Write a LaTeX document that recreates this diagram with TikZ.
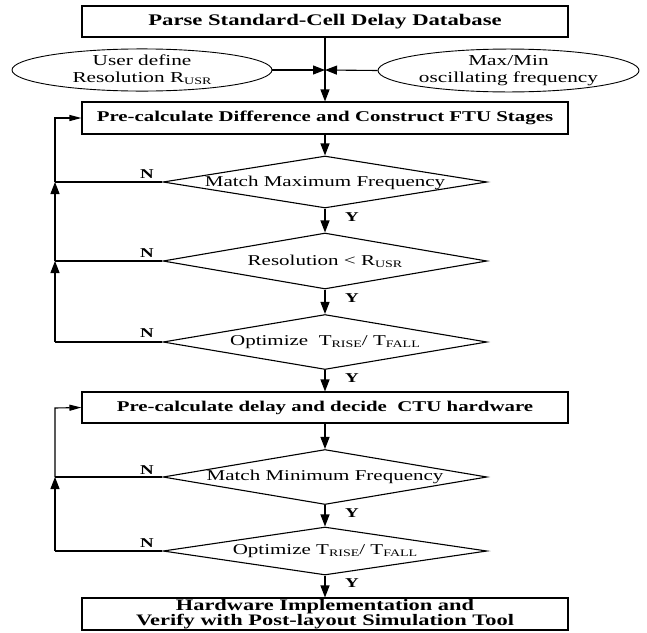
\documentclass[tikz,border=0pt]{standalone}
\usepackage{fontspec}
\setmainfont[FakeStretch=1.4]{Liberation Serif}
\usetikzlibrary{shapes.geometric,arrows.meta}
\newcommand\sbs[1]{\raisebox{-2pt}{\fontsize{10}{10}\selectfont #1}}
\begin{document}
\begin{tikzpicture}[x=1pt,y=-1pt,
  every node/.style={inner sep=0pt},
  box/.style={draw,line width=1.1pt,rectangle,minimum width=486pt,font=\bfseries\fontsize{14.9}{16}\selectfont,align=center},
  oval/.style={draw,line width=0.9pt,ellipse,font=\fontsize{15.2}{17}\selectfont,align=center},
  dia/.style={draw,line width=1.1pt,diamond,minimum width=324pt},
  dtxt/.style={font=\fontsize{15}{17}\selectfont},
  lab/.style={font=\bfseries\fontsize{13.5}{14}\selectfont},
  line/.style={line width=1.1pt},
  arr/.style={line width=1.1pt,-{Triangle[length=12pt,width=9pt]}},
  sarr/.style={line width=1.1pt,-{Triangle[length=12pt,width=6pt]}}]
\useasboundingbox (0,0) rectangle (647,632);
% nodes
\node[box,minimum height=31pt,font=\bfseries\fontsize{16.2}{17}\selectfont] (b1) at (325,21.5) {Parse Standard-Cell Delay Database};
\node[oval,minimum width=260pt,minimum height=41pt] (e1) at (142,70) {User define\\Resolution R\sbs{USR}};
\node[oval,minimum width=261pt,minimum height=41pt] (e2) at (508.5,70.5) {Max/Min\\oscillating frequency};
\coordinate (j) at (325,70);
\node[box,minimum height=32pt] (b2) at (325,118) {Pre-calculate Difference and Construct FTU Stages};
\node[dia,minimum height=52pt] (d1) at (325,182) {};
\node[dtxt] (t1) at (325,183) {Match Maximum Frequency};
\node[dia,minimum height=56pt] (d2) at (325,261) {};
\node[dtxt] (t2) at (325,261) {Resolution < R\sbs{USR}};
\node[dia,minimum height=55pt] (d3) at (325,342) {};
\node[dtxt] (t3) at (325,342) {Optimize\ \ T\sbs{RISE}/ T\sbs{FALL}};
\node[box,minimum height=31pt] (b3) at (325,407.5) {Pre-calculate delay and decide\ \ CTU hardware};
\node[dia,minimum height=55pt] (d4) at (325,477) {};
\node[dtxt] (t4) at (325,477) {Match Minimum Frequency};
\node[dia,minimum height=48pt] (d5) at (325,551) {};
\node[dtxt] (t5) at (325,551) {Optimize T\sbs{RISE}/ T\sbs{FALL}};
\node[box,minimum height=32pt,font=\bfseries\fontsize{16}{15.5}\selectfont] (b4) at (325,614) {Hardware Implementation and\\Verify with Post-layout Simulation Tool};
% labels
\node[lab] (n1) at (147,174) {N};
\node[lab] (n2) at (147,253) {N};
\node[lab] (n3) at (147,333) {N};
\node[lab] (n4) at (147,470) {N};
\node[lab] (n5) at (147,543) {N};
\node[lab] (y1) at (352,217) {Y};
\node[lab] (y2) at (352,298) {Y};
\node[lab] (y3) at (352,378) {Y};
\node[lab] (y4) at (352,513) {Y};
\node[lab] (y5) at (352,583) {Y};
% main flow
\draw[arr] (b1.south) -- (b2.north);
\draw[arr] (e1.east) -- (j);
\draw[arr] (e2.west) -- (j);
\draw[arr] (b2.south) -- (d1.north);
\draw[arr] (d1.south) -- (d2.north);
\draw[arr] (d2.south) -- (d3.north);
\draw[arr] (d3.south) -- (b3.north);
\draw[arr] (b3.south) -- (d4.north);
\draw[arr] (d4.south) -- (d5.north);
\draw[arr] (d5.south) -- (b4.north);
% FTU loop
\coordinate (l0) at (55,118);
\coordinate (l1) at (55,182);
\coordinate (l2) at (55,261);
\coordinate (l3) at (55,342);
\draw[line] (d1.west) -- (l1);
\draw[line] (d2.west) -- (l2);
\draw[line] (d3.west) -- (l3);
\draw[arr] (l3) -- (l2);
\draw[arr] (l2) -- (l1);
\draw[sarr] (l1) -- (l0) -- (b2.west);
% CTU loop
\coordinate (m0) at (55,408);
\coordinate (m1) at (55,477);
\coordinate (m2) at (55,551);
\draw[line] (d4.west) -- (m1);
\draw[line] (d5.west) -- (m2);
\draw[arr] (m2) -- (m1);
\draw[sarr] (m1) -- (m0) -- (b3.west);
\end{tikzpicture}
\end{document}
